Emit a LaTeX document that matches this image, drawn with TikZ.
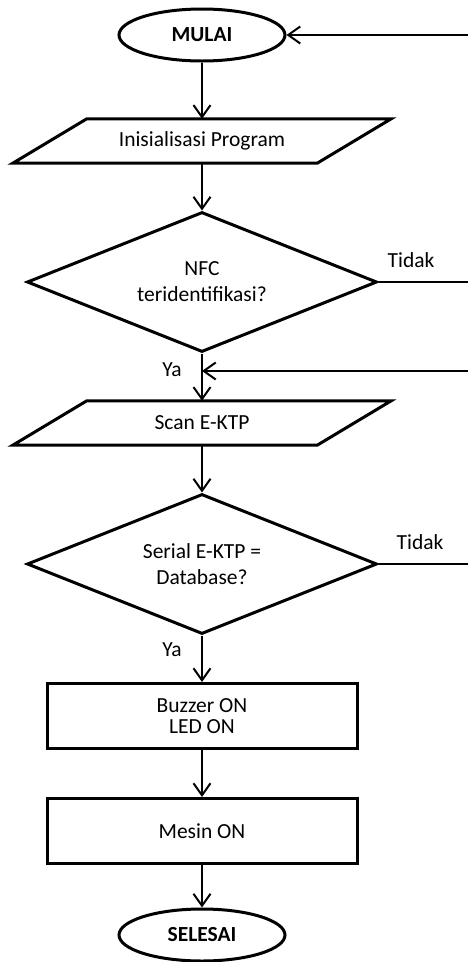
\documentclass[tikz,border=0pt]{standalone}
\usepackage{fontspec}
\setmainfont{Carlito}
\usetikzlibrary{arrows.meta}
\usetikzlibrary{shapes.geometric}

\begin{document}
\begin{tikzpicture}[x=1pt, y=-1pt,
    every node/.style={font=\fontsize{21.5}{26}\selectfont},
    terminal/.style={ellipse, draw, line width=3pt, minimum width=166pt,
      minimum height=52pt, inner sep=0pt, font=\fontsize{21.5}{26}\selectfont\bfseries},
    iobox/.style={rectangle, minimum width=304pt, minimum height=44pt, inner sep=0pt},
    decision/.style={diamond, draw, line width=3pt, aspect=2.5, align=center,
      minimum width=350pt, minimum height=140pt, inner sep=0pt},
    process/.style={rectangle, draw, line width=3pt, align=center,
      minimum width=310pt, minimum height=65pt},
    outline/.style={line width=3pt},
    conn/.style={line width=2pt},
    arr/.style={conn, -{Straight Barb[length=12pt, width=17pt]}}]
  \useasboundingbox (0, 0) rectangle (468, 962);

  \node[terminal] (start) at (202, 35) {MULAI};
  \node[iobox] (init) at (202, 141) {Inisialisasi Program};
  \node[decision] (nfc) at (202, 282) {NFC\\teridentifikasi?};
  \node[iobox] (scan) at (202, 423) {Scan E-KTP};
  \node[decision] (db) at (202, 564) {Serial E-KTP =\\Database?};
  \node[process, font=\fontsize{21.5}{21}\selectfont] (buzz) at (202, 716) {Buzzer ON\\LED ON};
  \node[process] (mesin) at (202, 831) {Mesin ON};
  \node[terminal] (stop) at (202, 935) {SELESAI};

  \foreach \n in {init, scan}
    \draw[outline] ([xshift=37pt]\n.north west) -- ([xshift=37pt]\n.north east)
      -- ([xshift=-37pt]\n.south east) -- ([xshift=-37pt]\n.south west) -- cycle;

  \node (no1) at (411, 260) {Tidak};
  \node (yes1) at (172, 370) {Ya};
  \node (no2) at (420, 542) {Tidak};
  \node (yes2) at (172, 650) {Ya};

  \coordinate (ret1) at (468, 35);
  \coordinate (out1) at (468, 282);
  \coordinate (ret2) at (468, 371);
  \coordinate (out2) at (468, 564);

  \draw[arr] (start) -- (init);
  \draw[arr] (init) -- (nfc);
  \draw[arr] (nfc) -- (scan);
  \draw[arr] (scan) -- (db);
  \draw[arr] (db) -- (buzz);
  \draw[arr] (buzz) -- (mesin);
  \draw[arr] (mesin) -- (stop);

  \draw[arr] (ret1) -- (start);
  \draw[conn] (nfc.east) -- (out1);
  \draw[arr] (ret2) -- (ret2 -| nfc.south);
  \draw[conn] (db.east) -- (out2);
\end{tikzpicture}
\end{document}
